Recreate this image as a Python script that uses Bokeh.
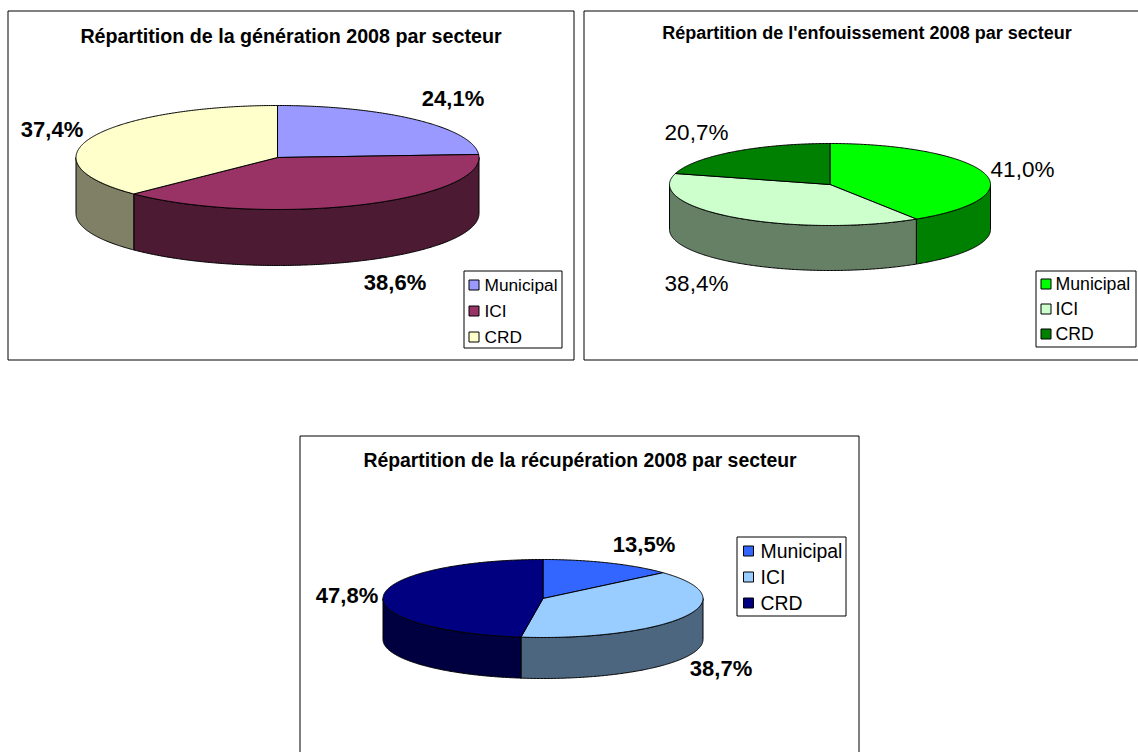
import numpy as np
from bokeh.core.properties import value
from bokeh.embed import file_html
from bokeh.models import Range1d
from bokeh.plotting import figure
from bokeh.resources import INLINE

categories = ["Municipal", "ICI", "CRD"]
generation = [24.1, 38.6, 37.4]
enfouissement = [41.0, 38.4, 20.7]
recuperation = [13.5, 38.7, 47.8]
title_generation = "Répartition de la génération 2008 par secteur"
title_enfouissement = "Répartition de l'enfouissement 2008 par secteur"
title_recuperation = "Répartition de la récupération 2008 par secteur"
colors_generation = ["#9999FF", "#993366", "#FFFFCC"]
colors_enfouissement = ["#00FF00", "#CCFFCC", "#008000"]
colors_recuperation = ["#3366FF", "#99CCFF", "#000080"]

FONT = value("Liberation Sans")
W, H = 1138, 752

charts = [
    dict(values=generation, colors=colors_generation, title=title_generation,
         frame=(8, 574, 11, 360), title_pos=(291.5, 36), title_size="19.7px",
         pie=(278, 158, 201.5, 52, 56), bold=True,
         label_pos=[(453.5, 99), (395.5, 283), (52.5, 130)], label_size="22px",
         legend=(464, 562, 271, 348), rows=[285, 311, 337], legend_size="17.3px",
         swatch_dx=5.5, text_dx=21),
    dict(values=enfouissement, colors=colors_enfouissement, title=title_enfouissement,
         frame=(584, 1160, 11, 360), title_pos=(867.5, 33), title_size="18px",
         pie=(830.5, 185, 160.5, 41, 45), bold=False,
         label_pos=[(1023, 170), (697, 284), (697, 133)], label_size="22.5px",
         legend=(1036, 1136, 271, 347), rows=[284, 309, 334], legend_size="17.7px",
         swatch_dx=5.5, text_dx=20),
    dict(values=recuperation, colors=colors_recuperation, title=title_recuperation,
         frame=(300, 859, 436, 790), title_pos=(580.5, 460), title_size="19.4px",
         pie=(543.5, 599, 160, 39, 41), bold=True,
         label_pos=[(644.5, 545), (721.5, 669), (347.5, 596)], label_size="22px",
         legend=(737, 846, 537, 616), rows=[551, 577, 603], legend_size="19.4px",
         swatch_dx=7, text_dx=24),
]


def darker(c):
    r, g, b = (int(c[i:i + 2], 16) for i in (1, 3, 5))
    return "#%02X%02X%02X" % (round(r * .5), round(g * .5), round(b * .5))


def arc(cx, cy, rx, ry, a, b):
    t = np.radians(np.linspace(a, b, max(int(abs(b - a)) * 2, 2)))
    return cx + rx * np.sin(t), cy - ry * np.cos(t)


p = figure(width=W, height=H, output_backend="svg", toolbar_location=None,
           x_range=Range1d(1, W + 1), y_range=Range1d(H + 1, 1),
           min_border=0, outline_line_color=None, background_fill_color="white",
           border_fill_color="white")
p.axis.visible = False
p.grid.visible = False

for ch in charts:
    l, r, t, b = ch["frame"]
    p.quad(left=[l + .5], right=[r + .5], top=[t + .5], bottom=[b + .5],
           fill_color="white", line_color="black", line_width=1)

    vals = np.array(ch["values"], dtype=float)
    edges = np.concatenate([[0], np.cumsum(vals) / vals.sum() * 360])
    cx, cy, rx, ry, depth = ch["pie"]

    sx, sy, sc, tx, ty, tc = [], [], [], [], [], []
    for i, col in enumerate(ch["colors"]):
        a, e = edges[i], edges[i + 1]
        fa, fe = max(a, 90), min(e, 270)
        if fe > fa:
            x, y = arc(cx, cy, rx, ry, fa, fe)
            sx.append(np.concatenate([x, x[::-1]]))
            sy.append(np.concatenate([y, y[::-1] + depth]))
            sc.append(darker(col))
        x, y = arc(cx, cy, rx, ry, a, e)
        tx.append(np.concatenate([[cx], x]))
        ty.append(np.concatenate([[cy], y]))
        tc.append(col)
    p.patches(sx, sy, fill_color=sc, line_color="black", line_width=1)
    p.patches(tx, ty, fill_color=tc, line_color="black", line_width=1)

    p.text(x=[ch["title_pos"][0]], y=[ch["title_pos"][1]], text=[ch["title"]],
           text_font=FONT, text_font_size=ch["title_size"], text_font_style="bold",
           text_align="center", text_baseline="middle", text_color="black")

    labels = [f"{v:.1f}".replace(".", ",") + "%" for v in ch["values"]]
    p.text(x=[q[0] for q in ch["label_pos"]], y=[q[1] for q in ch["label_pos"]], text=labels,
           text_font=FONT, text_font_size=ch["label_size"],
           text_font_style="bold" if ch["bold"] else "normal",
           text_align="center", text_baseline="middle", text_color="black")

    ll, lr, lt, lb = ch["legend"]
    p.quad(left=[ll + .5], right=[lr + .5], top=[lt + .5], bottom=[lb + .5],
           fill_color="white", line_color="black", line_width=1)
    rows = ch["rows"]
    sdx = ch["swatch_dx"]
    p.quad(left=[ll + sdx] * 3, right=[ll + sdx + 10] * 3,
           top=[y - 4.5 for y in rows], bottom=[y + 5.5 for y in rows],
           fill_color=ch["colors"], line_color="black", line_width=1)
    p.text(x=[ll + ch["text_dx"]] * 3, y=rows, text=categories, text_font=FONT,
           text_font_size=ch["legend_size"],
           text_align="left", text_baseline="middle", text_color="black")

open("out.html", "w").write(file_html(p, INLINE))
